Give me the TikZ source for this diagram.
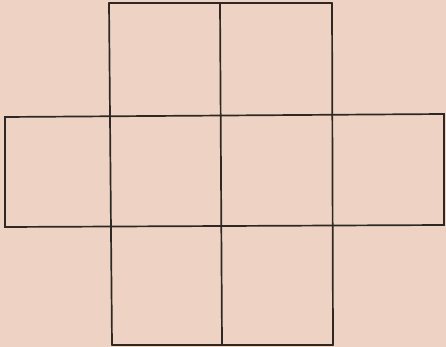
\documentclass[tikz,border=0pt]{standalone}
\begin{document}
\begin{tikzpicture}[x=1pt,y=-1pt]
\definecolor{paper}{RGB}{238,211,196}
\definecolor{ink}{RGB}{45,40,36}
\tikzset{gridline/.style={draw=ink,line width=1.7pt,line cap=round,line join=miter}}
\fill[paper] (0,0) rectangle (446,347);
\useasboundingbox (0,0) rectangle (446,347);
% vertical lines (continuous)
\coordinate (va1) at (109,3);   \coordinate (va2) at (112,345);
\coordinate (vb1) at (220,3);   \coordinate (vb2) at (222,345);
\coordinate (vc1) at (332,3);   \coordinate (vc2) at (333,345);
\draw[gridline] (va1) -- (va2);
\draw[gridline] (vb1) -- (vb2);
\draw[gridline] (vc1) -- (vc2);
% top and bottom edges
\draw[gridline] (va1) -- (vc1);
\draw[gridline] (va2) -- (vc2);
% middle row outline
\coordinate (l1) at (5,117);
\coordinate (r1) at (444,114);
\coordinate (l2) at (5,227);
\coordinate (r2) at (444,225);
\draw[gridline] (l1) -- (r1) -- (r2) -- (l2) -- cycle;
\end{tikzpicture}
\end{document}
